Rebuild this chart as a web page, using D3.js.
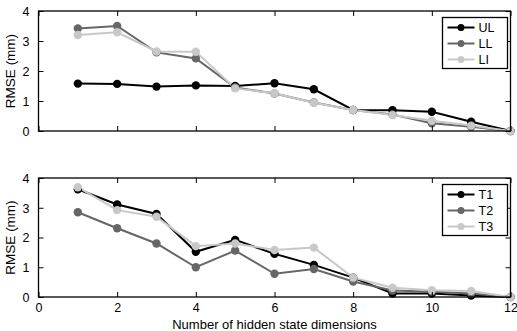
<!DOCTYPE html>
<html><head><meta charset="utf-8">
<script src="https://cdn.jsdelivr.net/npm/d3@7"></script>
<style>body{margin:0;background:#fff}svg{display:block}text{font-family:"Liberation Sans",Arial,sans-serif}</style>
</head><body><svg id="c" width="517" height="331"></svg>
<script>
const dims = [1,2,3,4,5,6,7,8,9,10,11,12];
const xTicks = [0,2,4,6,8,10,12];
const yTicks = [0,1,2,3,4];
const topNames = ["UL","LL","LI"];
const UL = [1.58,1.57,1.48,1.52,1.50,1.59,1.39,0.70,0.69,0.64,0.31,0.00];
const LL = [3.42,3.50,2.62,2.42,1.45,1.25,0.95,0.70,0.55,0.26,0.14,0.00];
const LI = [3.20,3.29,2.65,2.64,1.42,1.26,0.94,0.70,0.53,0.34,0.18,0.00];
const botNames = ["T1","T2","T3"];
const T1 = [3.62,3.11,2.79,1.52,1.92,1.45,1.08,0.65,0.12,0.12,0.05,0.00];
const T2 = [2.85,2.31,1.80,1.00,1.56,0.78,0.94,0.52,0.22,0.18,0.12,0.00];
const T3 = [3.69,2.92,2.70,1.71,1.80,1.58,1.66,0.65,0.31,0.23,0.20,0.00];
const colors = ["#000000","#666666","#c8c8c8"];

const svg = d3.select("#c");
const L = 38.5, R = 510.5;
const x = d3.scaleLinear().domain([0,12]).range([L,R]);

function panel(top, bottom, series, names, showX){
  const y = d3.scaleLinear().domain([0,4]).range([bottom, top]);
  const g = svg.append("g");
  series.forEach((s,i)=>{
    const c = colors[i];
    g.append("path").datum(s).attr("fill","none").attr("stroke",c).attr("stroke-width",2)
      .attr("d", d3.line().x((d,j)=>x(dims[j])).y(d=>y(d)));
  });
  series.forEach((s,i)=>{
    g.selectAll(null).data(s).enter().append("circle")
      .attr("cx",(d,j)=>x(dims[j])).attr("cy",d=>y(d)).attr("r",4.2).attr("fill",colors[i]);
  });
  g.append("rect").attr("x",L).attr("y",top).attr("width",R-L).attr("height",bottom-top)
    .attr("fill","none").attr("stroke","#000").attr("stroke-width",1.3);
  const ax = g.append("g").attr("transform",`translate(0,${bottom})`)
    .call(d3.axisBottom(x).tickValues(xTicks).tickSize(-5).tickPadding(6).tickFormat(showX ? d3.format("d") : ()=>""));
  const axT = g.append("g").attr("transform",`translate(0,${top})`)
    .call(d3.axisTop(x).tickValues(xTicks).tickSize(-5).tickFormat(()=>""));
  const ay = g.append("g").attr("transform",`translate(${L},0)`)
    .call(d3.axisLeft(y).tickValues(yTicks).tickSize(-5).tickPadding(9).tickFormat(d3.format("d")));
  const ayR = g.append("g").attr("transform",`translate(${R},0)`)
    .call(d3.axisRight(y).tickValues(yTicks).tickSize(-5).tickFormat(()=>""));
  [ax,axT,ay,ayR].forEach(a=>{
    a.select(".domain").remove();
    a.selectAll("line").attr("stroke","#000");
    a.selectAll("text").attr("font-size",12.5).attr("fill","#000").style("font-family",'"Liberation Sans",Arial,sans-serif');
  });
  ay.selectAll("text").attr("dy","0.35em");
  g.append("text").attr("transform",`translate(15,${(top+bottom)/2}) rotate(-90)`)
    .attr("text-anchor","middle").attr("font-size",13.5).text("RMSE (mm)");
  const lx = 442.5, ly = top+6.5, lw = 65, lh = 51;
  g.append("rect").attr("x",lx).attr("y",ly).attr("width",lw).attr("height",lh)
    .attr("fill","#fff").attr("stroke","#000").attr("stroke-width",1.3);
  names.forEach((n,i)=>{
    const yy = ly + 10 + i*16;
    g.append("line").attr("x1",lx+5).attr("x2",lx+32).attr("y1",yy).attr("y2",yy)
      .attr("stroke",colors[i]).attr("stroke-width",2);
    g.append("circle").attr("cx",lx+18.5).attr("cy",yy).attr("r",3.5).attr("fill",colors[i]);
    g.append("text").attr("x",lx+36).attr("y",yy).attr("dy","0.36em").attr("font-size",12.5).text(n);
  });
}
panel(11, 131, [UL,LL,LI], topNames, false);
panel(178, 297, [T1,T2,T3], botNames, true);
svg.append("text").attr("x",(L+R)/2).attr("y",328.5).attr("text-anchor","middle")
  .attr("font-size",13).text("Number of hidden state dimensions");
</script></body></html>
